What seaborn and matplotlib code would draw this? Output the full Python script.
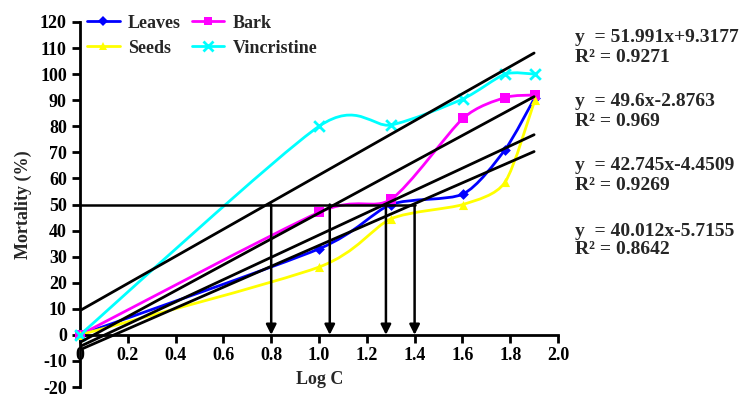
import numpy as np
import pandas as pd
import seaborn as sns
import matplotlib.pyplot as plt
from matplotlib.path import Path
from matplotlib.patches import PathPatch
from matplotlib.lines import Line2D

# log of concentrations 1, 10, 20, 40, 60, 80
log_c = [0.0, 1.0, 1.301, 1.602, 1.778, 1.903]
leaves = [0, 33, 50, 54, 71, 91]
bark = [0, 47, 52, 83, 91, 92]
seeds = [0, 26, 44.5, 50, 58.5, 90]
vincristine = [0, 80, 80.5, 90.5, 100, 100]

# linear fits shown on the right (slope, intercept, r2)
fit_slopes = [51.991, 49.6, 42.745, 40.012]
fit_icepts = [9.3177, -2.8763, -4.4509, -5.7155]
fit_r2 = ["0.9271", "0.969", "0.9269", "0.8642"]
fit_labels = ["51.991x+9.3177", "49.6x-2.8763", "42.745x-4.4509", "40.012x-5.7155"]
fit_x = [0.0, 1.9]

# LC50 read-off
lc50_level = 50
lc50_x = [0.8, 1.045, 1.28, 1.4]

series = {
    "Leaves": (leaves, "#0000ff", "D", 5),
    "Bark": (bark, "#ff00ff", "s", 6),
    "Seeds": (seeds, "#ffff00", "^", 6),
    "Vincristine": (vincristine, "#00ffff", "x", 7),
}

sns.set_theme(style="ticks")
plt.rcParams['font.family'] = ['Liberation Serif', 'DejaVu Serif']
plt.rcParams['font.weight'] = 'bold'
plt.rcParams['axes.unicode_minus'] = False


def smooth_path(xs, ys, k=1 / 8):
    # smoothed line like the spreadsheet one: catmull-rom style beziers
    pts = np.column_stack([xs, ys]).astype(float)
    verts = [pts[0]]
    codes = [Path.MOVETO]
    n = len(pts)
    for i in range(n - 1):
        p0 = pts[max(i - 1, 0)]
        p1 = pts[i]
        p2 = pts[i + 1]
        p3 = pts[min(i + 2, n - 1)]
        c1 = p1 + (p2 - p0) * k
        c2 = p2 - (p3 - p1) * k
        verts += [c1, c2, p2]
        codes += [Path.CURVE4] * 3
    return Path(verts, codes)


fig = plt.figure(figsize=(7.45, 4.0), dpi=100)
ax = fig.add_axes([0.1074, 0.0325, 0.6416, 0.9125])

for name, (vals, col, mk, ms) in series.items():
    ax.add_patch(PathPatch(smooth_path(log_c, vals), facecolor="none",
                           edgecolor=col, lw=2, zorder=2, clip_on=False))
    df = pd.DataFrame({"logc": log_c, "mort": vals})
    sns.scatterplot(data=df, x="logc", y="mort", marker=mk, s=ms ** 2 * 1.2,
                    color=col, edgecolor=col, linewidth=2 if mk == "x" else 0,
                    ax=ax, zorder=3, clip_on=False, legend=False)

for a, b in zip(fit_slopes, fit_icepts):
    fx = np.array(fit_x)
    ax.plot(fx, a * fx + b, color="black", lw=2, zorder=4)

ax.plot([0, max(lc50_x)], [lc50_level, lc50_level], color="black", lw=1.8, zorder=4)
for xv in lc50_x:
    ax.annotate("", xy=(xv, 0), xytext=(xv, lc50_level),
                arrowprops=dict(arrowstyle="-|>", color="black", lw=1.8,
                                mutation_scale=15, shrinkA=0, shrinkB=0),
                zorder=5)

ax.set_xlim(0, 2.0)
ax.set_ylim(-20, 120)
ax.set_xticks(np.arange(0, 2.01, 0.2))
ax.set_xticklabels(["0"] + [f"{v:.1f}" for v in np.arange(0.2, 2.01, 0.2)])
ax.set_yticks(np.arange(-20, 121, 10))
ax.spines["bottom"].set_position(("data", 0))
ax.spines["top"].set_visible(False)
ax.spines["right"].set_visible(False)
for sp in ["left", "bottom"]:
    ax.spines[sp].set_linewidth(2)
    ax.spines[sp].set_color("black")
ax.tick_params(axis="both", direction="out", length=6, width=2, color="black",
               labelsize=13, labelcolor="black")
ax.tick_params(axis="x", pad=3)
ax.set_xlabel("Log C", fontsize=13, fontweight="bold")
ax.xaxis.set_label_coords(0.502, 0.045)
ax.set_ylabel("Mortality (%)", fontsize=13, fontweight="bold", labelpad=6)

handles = []
for name in ["Leaves", "Seeds", "Bark", "Vincristine"]:
    vals, col, mk, ms = series[name]
    handles.append(Line2D([], [], color=col, lw=2, marker=mk, markersize=ms,
                          markeredgewidth=2 if mk == "x" else 0))
ax.legend(handles, ["Leaves", "Seeds", "Bark", "Vincristine"], ncol=2,
          loc="upper left", bbox_to_anchor=(0.0, 1.04), frameon=False,
          fontsize=13, handlelength=1.8, handletextpad=0.45,
          columnspacing=0.6, labelspacing=0.45, borderaxespad=0)

eq_y = [0.905, 0.745, 0.585, 0.4225]
for yy, lab, r2 in zip(eq_y, fit_labels, fit_r2):
    fig.text(0.772, yy, "y  = " + lab, fontsize=14, fontweight="bold", va="center")
    fig.text(0.772, yy - 0.0475, "R² = " + r2, fontsize=14, fontweight="bold", va="center")

fig.savefig("out.png", dpi=100)
